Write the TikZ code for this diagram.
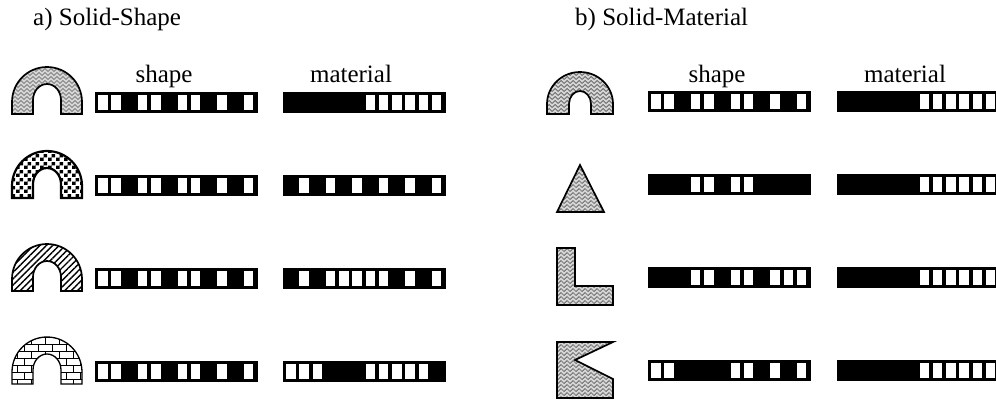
\documentclass[tikz,border=0pt]{standalone}
\usepackage{fontspec}
\setmainfont{Liberation Serif}
\usetikzlibrary{patterns,patterns.meta}

\pgfdeclarepatternformonly{zigzag}{\pgfqpoint{-0.5pt}{-0.5pt}}{\pgfqpoint{6.5pt}{4.5pt}}{\pgfqpoint{6pt}{4pt}}{%
  \pgfsetlinewidth{0.7pt}%
  \pgfpathmoveto{\pgfqpoint{0pt}{0.5pt}}%
  \pgfpathlineto{\pgfqpoint{3pt}{3.5pt}}%
  \pgfpathlineto{\pgfqpoint{6pt}{0.5pt}}%
  \pgfusepath{stroke}}
\pgfdeclarepatternformonly{blocks}{\pgfqpoint{0pt}{0pt}}{\pgfqpoint{8pt}{8pt}}{\pgfqpoint{8pt}{8pt}}{%
  \pgfpathrectangle{\pgfqpoint{0pt}{0pt}}{\pgfqpoint{4pt}{3.6pt}}%
  \pgfpathrectangle{\pgfqpoint{4pt}{4pt}}{\pgfqpoint{4pt}{3.6pt}}%
  \pgfusepath{fill}}
\pgfdeclarepatternformonly{mybricks}{\pgfqpoint{-0.5pt}{-0.5pt}}{\pgfqpoint{14.5pt}{14.5pt}}{\pgfqpoint{14pt}{14pt}}{%
  \pgfsetlinewidth{0.8pt}%
  \pgfpathmoveto{\pgfqpoint{0pt}{0pt}}\pgfpathlineto{\pgfqpoint{14pt}{0pt}}%
  \pgfpathmoveto{\pgfqpoint{0pt}{7pt}}\pgfpathlineto{\pgfqpoint{14pt}{7pt}}%
  \pgfpathmoveto{\pgfqpoint{3pt}{0pt}}\pgfpathlineto{\pgfqpoint{3pt}{7pt}}%
  \pgfpathmoveto{\pgfqpoint{10pt}{7pt}}\pgfpathlineto{\pgfqpoint{10pt}{14pt}}%
  \pgfusepath{stroke}}

\newcommand\cellbar[3]{%
  \fill[black] (#1,#2) rectangle ++(163,21);
  \foreach \v [count=\k from 0] in {#3} {%
    \ifnum\v=1 \fill[white] ({#1+3+13.25*\k},{#2+3}) rectangle ++(9.5,15);\fi}%
}
\newcommand\archpath[2]{% cx, base y
  (#1-35,#2) -- (#1-35,#2-12) arc[start angle=180,end angle=360,x radius=35,y radius=35]
  -- (#1+35,#2) -- (#1+14,#2) -- (#1+14,#2-14)
  arc[start angle=0,end angle=-180,x radius=14,y radius=16] -- (#1-14,#2) -- cycle}

\begin{document}
\begin{tikzpicture}[x=1pt,y=-1pt,
  lbl/.style={inner sep=0pt,font=\fontsize{25}{30}\selectfont},
  solid/.style={draw=black,line width=1.7pt,line join=miter},
  texture/.style={pattern=zigzag,pattern color=black!65},
  texbg/.style={fill=black!16}]
\useasboundingbox (0,0) rectangle (996,400);
\fill[white] (0,0) rectangle (996,400);
\clip (0,0) rectangle (996,400);

% titles
\node[lbl,anchor=base west] (ta) at (33,25) {a) Solid-Shape};
\node[lbl,anchor=base west] (tb) at (575,25) {b) Solid-Material};
% column labels
\node[lbl,anchor=base] (s1) at (164,82) {shape};
\node[lbl,anchor=base] (m1) at (351,82) {material};
\node[lbl,anchor=base] (s2) at (717,82) {shape};
\node[lbl,anchor=base] (m2) at (905,82) {material};

% ---------- a) Solid-Shape ----------
% row 1
\fill[texbg] \archpath{47}{114};
\fill[texture] \archpath{47}{114};
\draw[solid] \archpath{47}{114};
\cellbar{95}{92}{1,1,0,1,1,0,1,1,0,1,0,1}
\cellbar{283}{92}{0,0,0,0,0,0,1,1,1,1,1,1}
% row 2
\fill[pattern=blocks] \archpath{47}{198};
\draw[solid,line width=2.2pt] \archpath{47}{198};
\cellbar{95}{175}{1,1,0,1,1,0,1,1,0,1,0,1}
\cellbar{283}{175}{0,1,0,1,0,1,0,1,0,1,0,1}
% row 3
\fill[pattern={Lines[angle=45,distance=4.5pt,line width=1.4pt]}] \archpath{47}{291};
\draw[solid] \archpath{47}{291};
\cellbar{95}{268}{1,1,0,1,1,0,1,1,0,1,0,1}
\cellbar{283}{268}{0,1,0,1,1,1,1,1,0,1,0,1}
% row 4
\fill[pattern=mybricks] \archpath{47}{384};
\draw[solid,line width=1.3pt] \archpath{47}{384};
\cellbar{95}{361}{1,1,0,1,1,0,1,1,0,1,0,1}
\cellbar{283}{361}{1,1,1,0,0,0,1,1,1,1,1,0}

% ---------- b) Solid-Material ----------
\newcommand\rarch{(547,114) -- (547,104) arc[start angle=180,end angle=360,x radius=33,y radius=32]
  -- (613,114) -- (591,114) -- (591,104) arc[start angle=0,end angle=-180,x radius=11,y radius=13]
  -- (569,114) -- cycle}
\newcommand\rtri{(580,165) -- (604,212) -- (557,212) -- cycle}
\newcommand\rL{(557,248) -- (575,248) -- (575,286) -- (613,286) -- (613,305) -- (557,305) -- cycle}
\newcommand\rK{(557,342) -- (613,342) -- (575,360) -- (613,379) -- (613,398) -- (557,398) -- cycle}
\foreach \shp in {\rarch,\rtri,\rL,\rK}{
  \fill[texbg] \shp;
  \fill[texture] \shp;
  \draw[solid] \shp;
}
\cellbar{648}{91}{1,1,0,1,1,0,1,1,0,1,0,1}
\cellbar{837}{91}{0,0,0,0,0,0,1,1,1,1,1,1}
\cellbar{648}{174}{0,0,0,1,1,0,1,1,0,0,0,0}
\cellbar{837}{174}{0,0,0,0,0,0,1,1,1,1,1,1}
\cellbar{648}{267}{0,0,0,1,1,0,1,1,0,1,1,1}
\cellbar{837}{267}{0,0,0,0,0,0,1,1,1,1,1,1}
\cellbar{648}{360}{1,1,0,0,0,0,1,1,0,1,0,1}
\cellbar{837}{360}{0,0,0,0,0,0,1,1,1,1,1,1}
\end{tikzpicture}
\end{document}
